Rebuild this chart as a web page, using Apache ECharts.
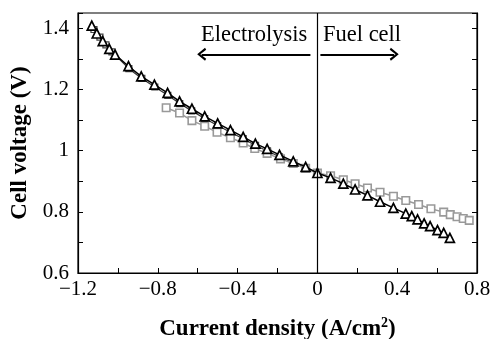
<!DOCTYPE html>
<html>
<head>
<meta charset="utf-8">
<script src="https://cdn.jsdelivr.net/npm/echarts@6/dist/echarts.min.js"></script>
<style>
  html, body { margin: 0; padding: 0; background: #fff; }
  #chart { width: 491px; height: 339px; }
</style>
</head>
<body>
<div id="chart"></div>
<script>
// black triangles
const triX = [-1.131, -1.106, -1.076, -1.043, -1.014, -0.947, -0.883, -0.817, -0.751, -0.691,
  -0.629, -0.565, -0.5, -0.436, -0.372, -0.311, -0.252, -0.19, -0.121, -0.059,
  0.0, 0.066, 0.13, 0.189, 0.251, 0.314, 0.381, 0.443, 0.473, 0.502,
  0.535, 0.565, 0.602, 0.633, 0.664];
const triY = [1.409, 1.383, 1.358, 1.333, 1.314, 1.276, 1.243, 1.216, 1.189, 1.161,
  1.137, 1.112, 1.089, 1.067, 1.045, 1.023, 1.006, 0.986, 0.965, 0.947,
  0.927, 0.911, 0.892, 0.873, 0.854, 0.833, 0.813, 0.794, 0.786, 0.775,
  0.762, 0.753, 0.74, 0.731, 0.715];

// dark squares hidden under the triangles (electrolysis side)
const darkX = [-1.12, -1.09, -1.06, -1.03, -0.945, -0.88, -0.815, -0.75, -0.69, -0.63,
  -0.565, -0.5, -0.436, -0.372, -0.31, -0.25, -0.19, -0.121, -0.059, 0.0];
const darkY = [1.396, 1.371, 1.346, 1.323, 1.268, 1.236, 1.208, 1.181, 1.154, 1.13,
  1.105, 1.082, 1.06, 1.039, 1.017, 0.999, 0.98, 0.961, 0.944, 0.926];

// grey squares
const sqX = [-0.758, -0.691, -0.629, -0.565, -0.503, -0.436, -0.372, -0.314, -0.252, -0.185,
  -0.121, -0.059, 0.0, 0.066, 0.13, 0.189, 0.251, 0.314, 0.381, 0.443,
  0.507, 0.569, 0.633, 0.666, 0.7, 0.731, 0.761];
const sqY = [1.14, 1.123, 1.098, 1.08, 1.06, 1.042, 1.025, 1.007, 0.991, 0.973,
  0.958, 0.942, 0.927, 0.918, 0.905, 0.892, 0.878, 0.864, 0.851, 0.837,
  0.824, 0.81, 0.799, 0.791, 0.784, 0.778, 0.772];

const xTicks = [-1.2, 0.8];
const yTicks = [0.6, 1.45];

const font = 'Liberation Serif';
const zip = (xs, ys) => xs.map((x, i) => [x, ys[i]]);

const fmt = (step) => (v) => {
  const r = Math.round(v * 10);
  if (Math.abs(v * 10 - r) > 1e-6 || r % step !== 0) return '';
  return String(+v.toFixed(1)).replace('-', '\u2212');
};

const chevron = 'path://M5,0 L10,8 L8.4,9.2 L5,3.2 L1.6,9.2 L0,8 Z';

const myChart = echarts.init(document.getElementById('chart'));
myChart.setOption({
  animation: false,
  backgroundColor: '#fff',
  grid: {
    left: 78, right: 14, top: 13, bottom: 66,
    outerBoundsMode: 'none', containLabel: false,
    show: true, borderColor: '#000', borderWidth: 1.2, backgroundColor: 'transparent',
  },
  xAxis: [
    {
      type: 'value',
      min: xTicks[0],
      max: xTicks[1],
      interval: 0.2,
      axisLine: { onZero: false, lineStyle: { color: '#000', width: 1.2 } },
      axisTick: { inside: true, length: 5, lineStyle: { color: '#000' } },
      splitLine: { show: false },
      axisLabel: { formatter: fmt(4), color: '#000', fontFamily: font, fontSize: 21, margin: 6 },
      name: 'Current density (A/cm{sup|2})',
      nameLocation: 'middle',
      nameGap: 43,
      nameTextStyle: {
        fontFamily: font, fontWeight: 'bold', fontSize: 23, color: '#000',
        rich: { sup: { fontFamily: font, fontWeight: 'bold', fontSize: 14, color: '#000', padding: [0, 0, 12, 0] } },
      },
    },
  ],
  yAxis: [
    {
      type: 'value',
      min: yTicks[0],
      max: yTicks[1],
      interval: 0.1,
      axisLine: { show: true, onZero: false, lineStyle: { color: '#000', width: 1.2 } },
      axisTick: { inside: true, length: 5, lineStyle: { color: '#000' } },
      splitLine: { show: false },
      axisLabel: { formatter: fmt(2), color: '#000', fontFamily: font, fontSize: 21, margin: 9 },
      name: 'Cell voltage (V)',
      nameLocation: 'middle',
      nameGap: 46,
      nameTextStyle: { fontFamily: font, fontWeight: 'bold', fontSize: 23, color: '#000' },
    },
    {
      type: 'value',
      position: 'right',
      min: yTicks[0],
      max: yTicks[1],
      interval: 0.1,
      axisLine: { show: true, onZero: false, lineStyle: { color: '#000', width: 1.2 } },
      axisTick: { inside: true, length: 5, lineStyle: { color: '#000' } },
      axisLabel: { show: false },
      splitLine: { show: false },
    },
  ],
  series: [
    {
      type: 'line',
      data: zip(darkX, darkY),
      symbol: 'rect',
      symbolSize: 6,
      lineStyle: { color: '#333', width: 1.2 },
      itemStyle: { color: '#fff', borderColor: '#444', borderWidth: 1.2 },
      z: 2,
    },
    {
      type: 'line',
      data: zip(sqX, sqY),
      symbol: 'rect',
      symbolSize: 7.5,
      lineStyle: { color: '#9a9a9a', width: 1.5 },
      itemStyle: { color: '#fff', borderColor: '#999', borderWidth: 1.6 },
      z: 3,
    },
    {
      type: 'line',
      data: zip(triX, triY),
      symbol: 'triangle',
      symbolSize: 9,
      lineStyle: { color: '#000', width: 1.5 },
      itemStyle: { color: '#fff', borderColor: '#000', borderWidth: 1.7 },
      z: 4,
      markLine: {
        silent: true,
        animation: false,
        label: { show: false },
        lineStyle: { color: '#000', width: 1.2, type: 'solid' },
        data: [
          [{ coord: [0, yTicks[0]], symbol: 'none' }, { coord: [0, yTicks[1]], symbol: 'none' }],
          [
            { coord: [-0.035, 1.315], symbol: 'none', lineStyle: { width: 2.2 } },
            { coord: [-0.58, 1.315], symbol: chevron, symbolSize: [13, 9] },
          ],
          [
            { coord: [0.015, 1.315], symbol: 'none', lineStyle: { width: 2.2 } },
            { coord: [0.385, 1.315], symbol: chevron, symbolSize: [13, 9] },
          ],
        ],
      },
    },
  ],
  graphic: [
    {
      type: 'text',
      left: 201,
      top: 24,
      style: { text: 'Electrolysis', fontFamily: font, fontSize: 22.5, fill: '#000' },
    },
    {
      type: 'text',
      left: 323,
      top: 24,
      style: { text: 'Fuel cell', fontFamily: font, fontSize: 22.5, fill: '#000' },
    },
  ],
});
</script>
</body>
</html>
